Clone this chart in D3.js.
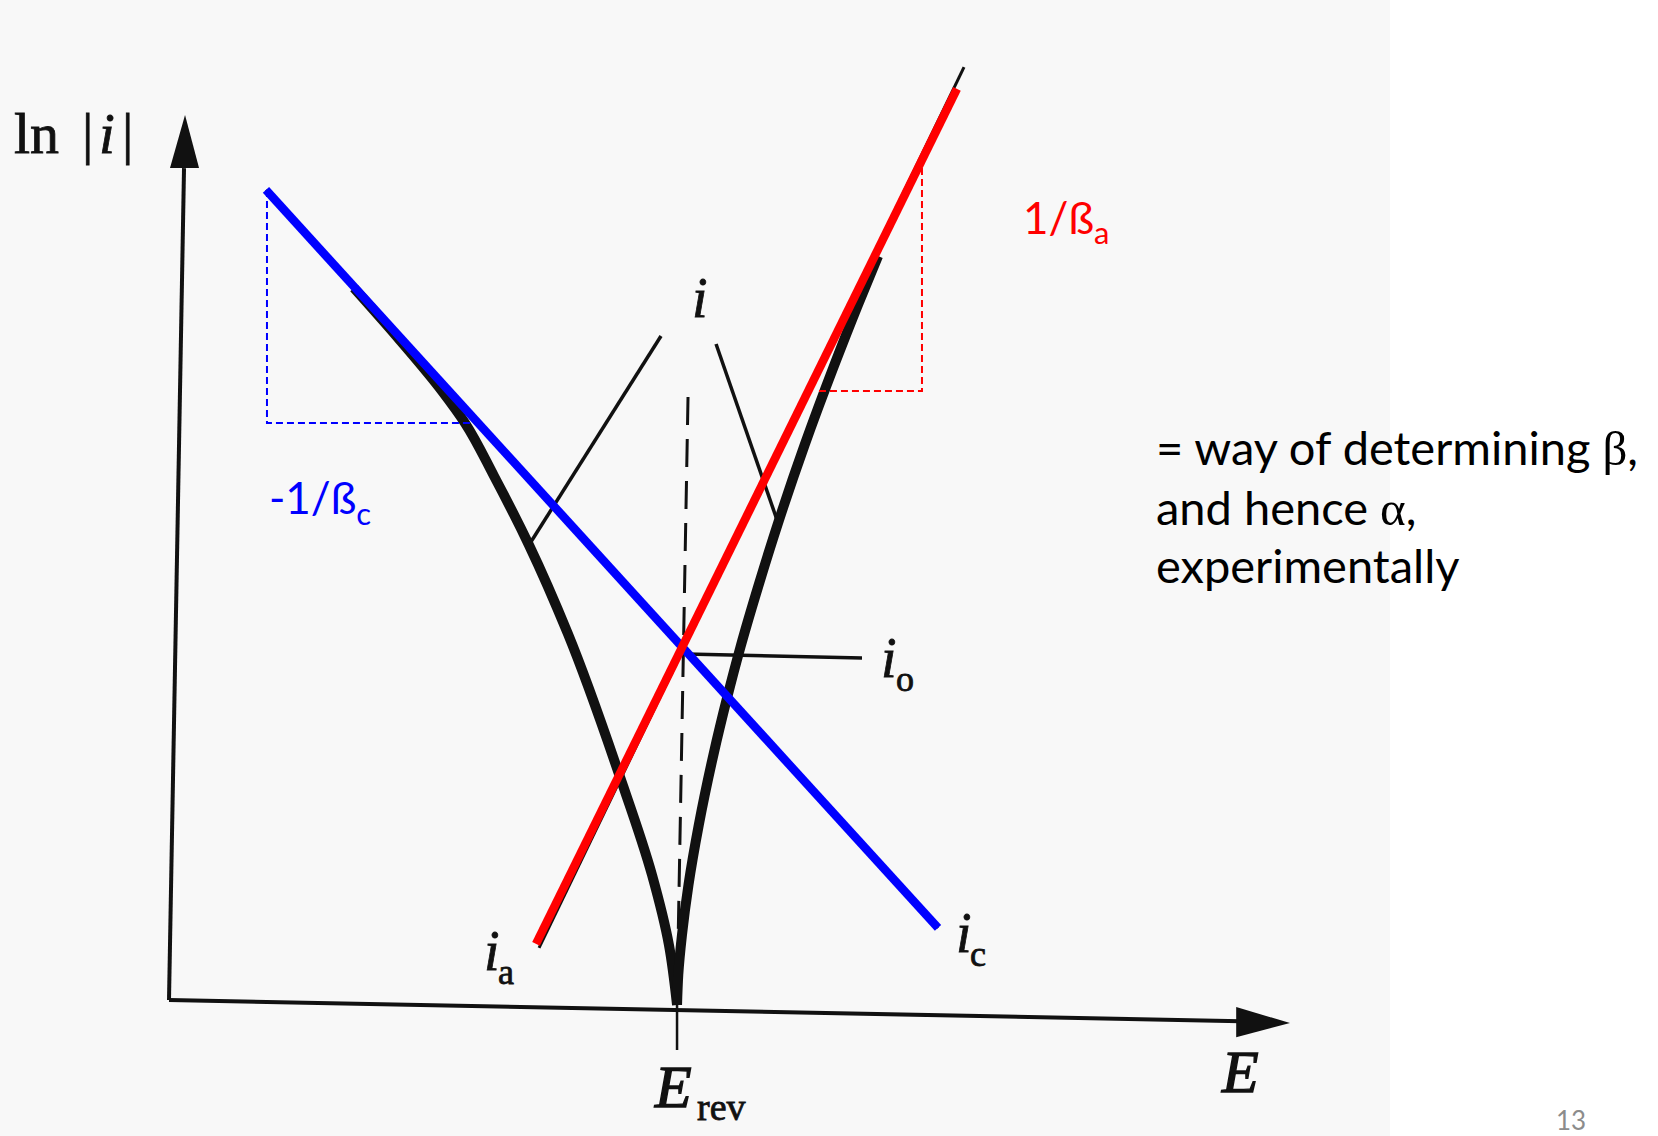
<!DOCTYPE html>
<html>
<head>
<meta charset="utf-8">
<script src="https://cdn.jsdelivr.net/npm/d3@7"></script>
<style>
  html, body { margin: 0; padding: 0; background: #ffffff; }
  svg { display: block; }
</style>
</head>
<body>
<svg id="chart" width="1658" height="1136"></svg>
<script>
// Tafel plot: ln|i| against electrode potential E (arbitrary units).

// Net current |i|, branch on the cathodic side of E_rev (top-left down to the cusp)
const netCathodicE   = [1.650, 2.043, 2.435, 2.640, 2.899, 3.211, 3.559, 4.023, 4.309, 4.460, 4.532];
const netCathodicLnI = [8.045, 7.480, 6.881, 6.520, 5.921, 5.141, 4.136, 2.520, 1.412, 0.621, -0.056];

// Net current |i|, branch on the anodic side of E_rev (cusp up to the top-right)
const netAnodicE   = [4.532, 4.543, 4.576, 4.634, 4.726, 4.856, 4.978, 5.098, 5.260, 5.442, 5.670, 5.935, 6.145, 6.325];
const netAnodicLnI = [-0.056, 0.282, 0.734, 1.299, 1.977, 2.768, 3.412, 3.989, 4.689, 5.424, 6.271, 7.175, 7.853, 8.407];

// Partial currents (straight Tafel lines)
const anodicPartialE   = [3.301, 7.092];
const anodicPartialLnI = [0.588, 10.542];
const cathodicPartialE   = [0.865, 6.860];
const cathodicPartialLnI = [9.153, 0.814];

// Fitted Tafel asymptotes
const anodicFitE   = [3.274, 7.029];
const anodicFitLnI = [0.633, 10.294];
const cathodicFitE   = [0.865, 6.860];
const cathodicFitLnI = [9.153, 0.814];

// Slope triangles
const cathodicSlopeE   = [0.874, 0.874, 2.685];
const cathodicSlopeLnI = [9.153, 6.520, 6.520];
const anodicSlopeE   = [5.798, 6.717, 6.717];
const anodicSlopeLnI = [6.881, 6.881, 9.446];

// Reversible potential: dashed drop line and tick below the axis
const eRevDropE   = [4.630, 4.532];
const eRevDropLnI = [6.814, 0.000];
const eRevTickE   = [4.532, 4.532];
const eRevTickLnI = [-0.056, -0.565];

// Leader lines for the labels
const leaderNetLeftE    = [4.389, 3.211];
const leaderNetLeftLnI  = [7.503, 5.141];
const leaderNetRightE   = [4.880, 5.424];
const leaderNetRightLnI = [7.412, 5.424];
const leaderI0E   = [4.612, 6.182];
const leaderI0LnI = [3.910, 3.864];

// Axes (the drawing is slightly rotated)
const yAxisE   = [0.000, 0.134];
const yAxisLnI = [0.000, 9.400];
const yArrowE   = [0.143, 0.009, 0.268];
const yArrowLnI = [10.000, 9.400, 9.400];
const xAxisE   = [0.000, 9.560];
const xAxisLnI = [0.000, -0.240];
const xArrowE   = [10.000, 9.520, 9.520];
const xArrowLnI = [-0.260, -0.080, -0.420];

// Text
const axisLabelY = ["ln", "|", "i", "|"];
const axisLabelX = "E";
const eRevLabel = ["E", "rev"];
const netLabel = "i";
const anodicLabel = ["i", "a"];
const cathodicLabel = ["i", "c"];
const exchangeLabel = ["i", "o"];
const anodicSlopeLabel = ["1/ß", "a"];
const cathodicSlopeLabel = ["-1/ß", "c"];
const noteLines = [["= way of determining ", "β", ","], ["and hence ", "α", ","], ["experimentally"]];
const pageNumber = "13";

const svg = d3.select("#chart");
const W = 1658, H = 1136;

const x = d3.scaleLinear().domain([0, 10]).range([169, 1290]);
const y = d3.scaleLinear().domain([0, 10]).range([1000, 115]);

const zip = (es, ls) => es.map((e, i) => [e, ls[i]]);
const straight = d3.line().x(d => x(d[0])).y(d => y(d[1]));
const smooth = d3.line().x(d => x(d[0])).y(d => y(d[1])).curve(d3.curveMonotoneY);

// paper background of the scanned figure
svg.append("rect").attr("width", W).attr("height", H).attr("fill", "#ffffff");
svg.append("rect").attr("x", 0).attr("y", 0).attr("width", 1390).attr("height", H).attr("fill", "#f8f8f8");

const INK = "#111111";
const SERIF = "'Liberation Serif', 'DejaVu Serif', serif";
const SANS = "Lato, 'Open Sans', sans-serif";

// axes
svg.append("path").attr("d", straight(zip(yAxisE, yAxisLnI)))
  .attr("fill", "none").attr("stroke", INK).attr("stroke-width", 4);
svg.append("path").attr("d", straight(zip(yArrowE, yArrowLnI)) + "Z").attr("fill", INK);
svg.append("path").attr("d", straight(zip(xAxisE, xAxisLnI)))
  .attr("fill", "none").attr("stroke", INK).attr("stroke-width", 4);
svg.append("path").attr("d", straight(zip(xArrowE, xArrowLnI)) + "Z").attr("fill", INK);

// E_rev drop line and tick
svg.append("path").attr("d", straight(zip(eRevDropE, eRevDropLnI)))
  .attr("fill", "none").attr("stroke", INK).attr("stroke-width", 3)
  .attr("stroke-dasharray", "28,14");
svg.append("path").attr("d", straight(zip(eRevTickE, eRevTickLnI)))
  .attr("fill", "none").attr("stroke", INK).attr("stroke-width", 2.5);

// leader lines
[[leaderNetLeftE, leaderNetLeftLnI], [leaderNetRightE, leaderNetRightLnI], [leaderI0E, leaderI0LnI]]
  .forEach(([e, l]) => {
    svg.append("path").attr("d", straight(zip(e, l)))
      .attr("fill", "none").attr("stroke", INK).attr("stroke-width", 3.5);
  });

// partial current lines
svg.append("path").attr("d", straight(zip(anodicPartialE, anodicPartialLnI)))
  .attr("fill", "none").attr("stroke", INK).attr("stroke-width", 3);
svg.append("path").attr("d", straight(zip(cathodicPartialE, cathodicPartialLnI)))
  .attr("fill", "none").attr("stroke", INK).attr("stroke-width", 3);

// net current branches
[[netCathodicE, netCathodicLnI], [netAnodicE, netAnodicLnI]].forEach(([e, l]) => {
  svg.append("path").attr("d", smooth(zip(e, l)))
    .attr("fill", "none").attr("stroke", INK).attr("stroke-width", 10)
    .attr("stroke-linecap", "butt").attr("stroke-linejoin", "round");
});

// slope triangles
svg.append("path").attr("d", straight(zip(cathodicSlopeE, cathodicSlopeLnI)))
  .attr("fill", "none").attr("stroke", "#0000ff").attr("stroke-width", 2)
  .attr("stroke-dasharray", "7,4");
svg.append("path").attr("d", straight(zip(anodicSlopeE, anodicSlopeLnI)))
  .attr("fill", "none").attr("stroke", "#ff0000").attr("stroke-width", 2)
  .attr("stroke-dasharray", "7,4");

// fitted Tafel lines
svg.append("path").attr("d", straight(zip(cathodicFitE, cathodicFitLnI)))
  .attr("fill", "none").attr("stroke", "#0000ff").attr("stroke-width", 8.5);
svg.append("path").attr("d", straight(zip(anodicFitE, anodicFitLnI)))
  .attr("fill", "none").attr("stroke", "#ff0000").attr("stroke-width", 8.5);

// ---- serif labels of the figure ----
function serif(xp, yp, size, italic, weight) {
  return svg.append("text").attr("x", xp).attr("y", yp)
    .attr("font-family", SERIF).attr("font-size", size)
    .attr("font-style", italic ? "italic" : "normal")
    .attr("fill", INK).attr("stroke", INK).attr("stroke-width", weight || 0.8);
}

// ln |i|
serif(14, 153, 58, false).text(axisLabelY[0]);
serif(82, 153, 57, false).text(axisLabelY[1]);
serif(99, 153, 57, true).text(axisLabelY[2]);
serif(122, 153, 57, false).text(axisLabelY[3]);

// E axis label
serif(1222, 1092, 60, true, 1.4).text(axisLabelX);

// E_rev
serif(655, 1107, 60, true, 1.4).text(eRevLabel[0]);
serif(697, 1120, 38, false).text(eRevLabel[1]);

// net current label
serif(692, 317, 56, true).text(netLabel);

// i_a
serif(484, 970, 56, true).text(anodicLabel[0]);
serif(498, 984, 36, false).text(anodicLabel[1]);

// i_c
serif(956, 952, 56, true).text(cathodicLabel[0]);
serif(970, 966, 36, false).text(cathodicLabel[1]);

// i_o
serif(881, 677, 56, true).text(exchangeLabel[0]);
serif(896, 691, 36, false).text(exchangeLabel[1]);

// ---- slope annotations ----
function sans(xp, yp, size, color) {
  return svg.append("text").attr("x", xp).attr("y", yp)
    .attr("font-family", SANS).attr("font-size", size).attr("fill", color);
}

const aLab = sans(1023, 234, 44, "#ff0000");
aLab.append("tspan").text(anodicSlopeLabel[0]);
aLab.append("tspan").attr("dy", 10).attr("font-size", 31).text(anodicSlopeLabel[1]);

const cLab = sans(269, 514, 44, "#0000ff");
cLab.append("tspan").text(cathodicSlopeLabel[0]);
cLab.append("tspan").attr("dy", 11).attr("font-size", 31).text(cathodicSlopeLabel[1]);

// explanatory note
const noteBase = [465, 525, 583];
noteLines.forEach((parts, li) => {
  const t = sans(1156, noteBase[li], 47, "#000000");
  parts.forEach((p, pi) => {
    const sp = t.append("tspan").text(p);
    if (pi === 1) sp.attr("font-family", SERIF).attr("font-size", 49);
  });
});

// page number
sans(1556, 1130, 26, "#8c8c8c").text(pageNumber);
</script>
</body>
</html>
